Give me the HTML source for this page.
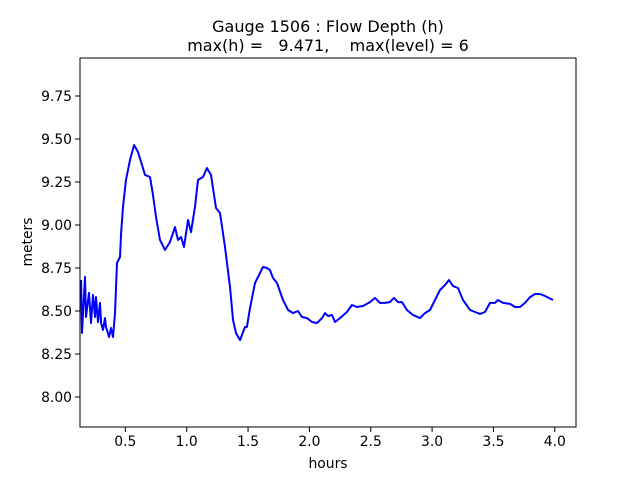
<!DOCTYPE html>
<html><head><meta charset="utf-8"><style>
body{margin:0;background:#fff;}
svg{display:block;font-family:"DejaVu Sans","Liberation Sans",sans-serif;}
</style></head><body>
<svg id="chart" width="640" height="480" viewBox="0 0 640 480">
<rect width="640" height="480" fill="#fff"/>
<text x="328" y="32" font-size="16" text-anchor="middle">Gauge 1506 : Flow Depth (h)</text>
<text x="328" y="51" font-size="16" text-anchor="middle" xml:space="preserve">max(h) =   9.471,    max(level) = 6</text>
<g id="ticks"></g>
<path id="series" fill="none" stroke="#0000ff" stroke-width="2" stroke-linejoin="round"/>
<rect x="80" y="58" width="496" height="369" fill="none" stroke="#000" stroke-width="1"/>
<text x="328" y="468" font-size="13.9" text-anchor="middle">hours</text>
<text transform="translate(32,242) rotate(-90)" font-size="13.9" text-anchor="middle">meters</text>
</svg>
<script>
const times=[0.139,0.147,0.171,0.179,0.204,0.22,0.236,0.253,0.261,0.277,0.293,0.302,0.318,0.334,0.342,0.367,0.383,0.399,0.416,0.432,0.456,0.465,0.481,0.505,0.538,0.571,0.603,0.628,0.660,0.701,0.725,0.750,0.782,0.823,0.864,0.905,0.929,0.954,0.978,1.011,1.035,1.068,1.092,1.133,1.165,1.198,1.239,1.271,1.312,1.353,1.377,1.402,1.434,1.475,1.491,1.516,1.557,1.597,1.622,1.654,1.679,1.703,1.736,1.785,1.826,1.866,1.907,1.940,1.980,2.021,2.062,2.103,2.127,2.152,2.184,2.209,2.249,2.306,2.347,2.388,2.437,2.494,2.535,2.575,2.616,2.657,2.689,2.722,2.755,2.795,2.844,2.901,2.942,2.983,3.024,3.064,3.105,3.138,3.170,3.211,3.252,3.309,3.350,3.390,3.431,3.472,3.513,3.537,3.578,3.635,3.676,3.716,3.757,3.798,3.839,3.879,3.920,3.985];
const depths=[8.680,8.372,8.698,8.465,8.605,8.430,8.593,8.465,8.581,8.436,8.547,8.430,8.390,8.459,8.407,8.349,8.401,8.349,8.488,8.779,8.814,8.953,9.105,9.262,9.378,9.465,9.424,9.366,9.291,9.279,9.174,9.047,8.913,8.855,8.901,8.988,8.913,8.930,8.872,9.029,8.959,9.105,9.262,9.279,9.331,9.291,9.099,9.070,8.872,8.640,8.448,8.372,8.331,8.407,8.407,8.517,8.663,8.721,8.756,8.750,8.738,8.692,8.663,8.564,8.506,8.488,8.500,8.465,8.459,8.436,8.430,8.459,8.488,8.471,8.477,8.436,8.459,8.494,8.535,8.523,8.529,8.552,8.576,8.547,8.547,8.552,8.576,8.552,8.552,8.506,8.477,8.459,8.488,8.506,8.564,8.622,8.651,8.680,8.645,8.634,8.564,8.506,8.494,8.483,8.494,8.547,8.547,8.564,8.547,8.541,8.523,8.523,8.547,8.581,8.599,8.599,8.587,8.564];
const xTicks=[0.5,1.0,1.5,2.0,2.5,3.0,3.5,4.0];
const xTickLabels=["0.5","1.0","1.5","2.0","2.5","3.0","3.5","4.0"];
const yTicks=[8.00,8.25,8.50,8.75,9.00,9.25,9.50,9.75];
const yTickLabels=["8.00","8.25","8.50","8.75","9.00","9.25","9.50","9.75"];

function xScale(t){return 64+t*122.7;}
function yScale(h){return 397-(h-8)*172;}
const NS="http://www.w3.org/2000/svg";
const g=document.getElementById('ticks');
xTicks.forEach((t,i)=>{
  const x=xScale(t);
  const l=document.createElementNS(NS,'line');
  
  
  l.setAttribute('x1',x);l.setAttribute('x2',x);l.setAttribute('y1',427);l.setAttribute('y2',432);l.setAttribute('stroke','#000');
  g.appendChild(l);
  const tx=document.createElementNS(NS,'text');
  
  
  tx.setAttribute('x',x);tx.setAttribute('y',446);tx.setAttribute('font-size','13.9');tx.setAttribute('text-anchor','middle');
  tx.textContent=xTickLabels[i];g.appendChild(tx);
});
yTicks.forEach((v,i)=>{
  const y=yScale(v);
  const l=document.createElementNS(NS,'line');
  
  
  l.setAttribute('x1',75);l.setAttribute('x2',80);l.setAttribute('y1',y);l.setAttribute('y2',y);l.setAttribute('stroke','#000');
  g.appendChild(l);
  const tx=document.createElementNS(NS,'text');
  
  
  tx.setAttribute('x',72);tx.setAttribute('y',y+5);tx.setAttribute('font-size','13.9');tx.setAttribute('text-anchor','end');
  tx.textContent=yTickLabels[i];g.appendChild(tx);
});
document.getElementById('series').setAttribute('d',times.map((t,i)=>(i?'L':'M')+xScale(t).toFixed(1)+','+yScale(depths[i]).toFixed(1)).join(' '));
</script>
</body></html>
